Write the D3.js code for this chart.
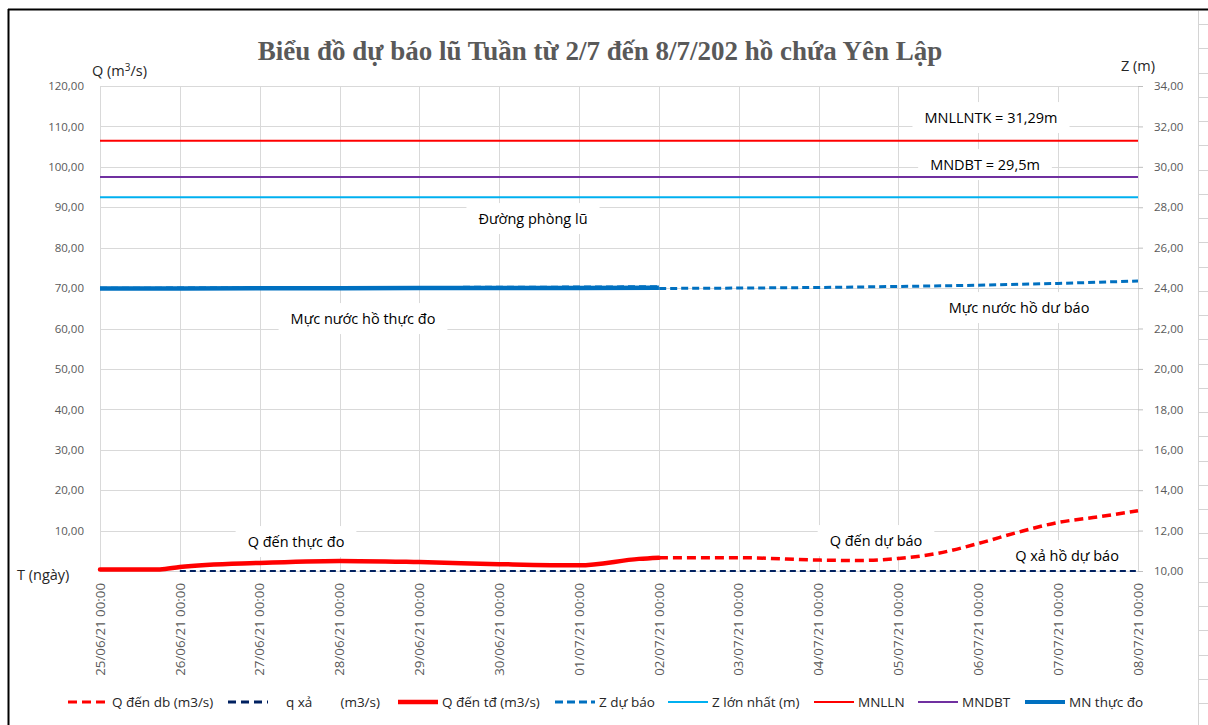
<!DOCTYPE html>
<html>
<head>
<meta charset="utf-8">
<script src="https://cdn.jsdelivr.net/npm/d3@7"></script>
<style>
  body { margin: 0; background: #fff; }
  text { font-family: "Open Sans", sans-serif; }
</style>
</head>
<body>
<svg id="viz" width="1208" height="725"></svg>
<script>
// days on the x axis
const dayTicks = ['25/06/2021 00:00','26/06/2021 00:00','27/06/2021 00:00','28/06/2021 00:00','29/06/2021 00:00',
  '30/06/2021 00:00','01/07/2021 00:00','02/07/2021 00:00','03/07/2021 00:00','04/07/2021 00:00',
  '05/07/2021 00:00','06/07/2021 00:00','07/07/2021 00:00','08/07/2021 00:00']

// Q đến thực đo (m3/s)
const qTdTimes = ['25/06/2021 00:00','25/06/2021 18:00','26/06/2021 00:00','27/06/2021 00:00','28/06/2021 00:00',
  '29/06/2021 00:00','30/06/2021 00:00','01/07/2021 00:00','01/07/2021 18:00','02/07/2021 00:00']
const qTdValues = [0.4, 0.4, 1.0, 2.0, 2.5, 2.2, 1.7, 1.4, 3.0, 3.3]

// Q đến dự báo (m3/s)
const qDbTimes = ['02/07/2021 00:00','03/07/2021 00:00','04/07/2021 00:00','04/07/2021 12:00','05/07/2021 00:00',
  '05/07/2021 12:00','06/07/2021 00:00','06/07/2021 12:00','07/07/2021 00:00','07/07/2021 12:00','08/07/2021 00:00']
const qDbValues = [3.3, 3.3, 2.7, 2.6, 3.1, 4.4, 6.8, 9.6, 12.0, 13.4, 14.9]

// q xả (m3/s)
const qXaTimes = dayTicks.slice(1)
const qXaValues = [0, 0, 0, 0, 0, 0, 0, 0, 0, 0, 0, 0, 0]

// MN thực đo (m)
const mnTimes = dayTicks.slice(0, 8)
const mnValues = [23.98, 23.98, 23.99, 23.99, 24.0, 24.0, 24.01, 24.02]

// Z dự báo (m)
const zDbTimes = dayTicks.slice(0, 8).concat(dayTicks.slice(7))
const zDbValues = [23.99, 24.0, 24.01, 24.02, 24.03, 24.04, 24.05, 24.07,
  23.98, 24.0, 24.03, 24.08, 24.14, 24.23, 24.35]

// level lines (m)
const levelNames = ['Z lớn nhất (m)', 'MNLLN', 'MNDBT']
const levelValues = [28.5, 31.29, 29.5]

const qTicks = [0, 10, 20, 30, 40, 50, 60, 70, 80, 90, 100, 110, 120]
const zTicks = [10, 12, 14, 16, 18, 20, 22, 24, 26, 28, 30, 32, 34]

const legendNames = ['Q đến db (m3/s)', '    q xả        (m3/s)', 'Q đến tđ (m3/s)', 'Z dự báo',
  'Z lớn nhất (m)', 'MNLLN', 'MNDBT', 'MN thực đo']

const parse = d3.timeParse('%d/%m/%Y %H:%M')
const fmt = d => d.toFixed(2).replace('.', ',')
const fmtDay = d3.timeFormat('%d/%m/%y %H:%M')

let svg = d3.select('#viz')

// frame + spreadsheet cells on the right
svg.append('line').attr('x1', 8).attr('x2', 1208).attr('y1', 9.5).attr('y2', 9.5)
  .attr('stroke', '#000').attr('stroke-width', 2)
svg.append('line').attr('x1', 8.5).attr('x2', 8.5).attr('y1', 9).attr('y2', 725)
  .attr('stroke', '#000').attr('stroke-width', 2)
svg.append('line').attr('x1', 1198.5).attr('x2', 1198.5).attr('y1', 11).attr('y2', 725)
  .attr('stroke', '#d4d4d4')
svg.selectAll('.cell').data(d3.range(24, 725, 24.25)).enter().append('line')
  .attr('x1', 1199).attr('x2', 1208).attr('y1', d => Math.round(d) + 0.5).attr('y2', d => Math.round(d) + 0.5)
  .attr('stroke', '#d4d4d4')

let x = d3.scaleTime().domain([parse(dayTicks[0]), parse(dayTicks[13])]).range([100, 1138])
let yQ = d3.scaleLinear().domain([0, 120]).range([571, 86])
let yZ = d3.scaleLinear().domain([10, 34]).range([571, 86])

// gridlines
let grid = svg.append('g')
grid.selectAll('.hg').data(qTicks).enter().append('line')
  .attr('x1', 100).attr('x2', 1138)
  .attr('y1', d => Math.round(yQ(d)) + 0.5).attr('y2', d => Math.round(yQ(d)) + 0.5)
  .attr('stroke', '#d9d9d9')
grid.selectAll('.vg').data(dayTicks).enter().append('line')
  .attr('x1', d => Math.round(x(parse(d))) + 0.5).attr('x2', d => Math.round(x(parse(d))) + 0.5)
  .attr('y1', 86).attr('y2', 571)
  .attr('stroke', '#d9d9d9')

// left axis labels (0 is replaced by the T (ngày) title)
svg.append('g').attr('transform', 'translate(100,0)')
  .call(d3.axisLeft(yQ).tickValues(qTicks.slice(1)).tickFormat(fmt).tickSize(0).tickPadding(16))
  .call(g => g.select('.domain').remove())
  .call(g => g.selectAll('text').attr('fill', '#595959').style('font-size', '11.5px').style('font-family', '"Open Sans", sans-serif'))

// right axis
svg.append('g').attr('transform', 'translate(1138,0)')
  .call(d3.axisRight(yZ).tickValues(zTicks).tickFormat(fmt).tickSize(5).tickPadding(11))
  .call(g => g.select('.domain').remove())
  .call(g => g.selectAll('line').attr('stroke', '#bfbfbf'))
  .call(g => g.selectAll('text').attr('fill', '#595959').style('font-size', '11.5px').style('font-family', '"Open Sans", sans-serif'))

// x labels (rotated)
svg.append('g').selectAll('text').data(dayTicks).enter().append('text')
  .attr('transform', d => `translate(${x(parse(d))},583) rotate(-90)`)
  .attr('text-anchor', 'end').attr('dy', '0.35em')
  .attr('fill', '#595959').style('font-size', '13.3px')
  .text(d => fmtDay(parse(d)))

// axis titles
let qTitle = svg.append('text').attr('x', 92).attr('y', 76).attr('fill', '#262626').style('font-size', '14.5px')
qTitle.append('tspan').text('Q (m')
qTitle.append('tspan').attr('dy', -5).style('font-size', '10px').text('3')
qTitle.append('tspan').attr('dy', 5).text('/s)')
svg.append('text').attr('x', 1121).attr('y', 71).attr('fill', '#262626').style('font-size', '14.5px').text('Z (m)')
svg.append('text').attr('x', 17).attr('y', 580).attr('fill', '#262626').style('font-size', '14.5px').text('T (ngày)')

// title
svg.append('text').attr('x', 600).attr('y', 60).attr('text-anchor', 'middle')
  .attr('fill', '#595959').style('font-family', '"Liberation Serif", serif').style('font-weight', 'bold')
  .style('font-size', '27px')
  .text('Biểu đồ dự báo lũ Tuần từ 2/7 đến 8/7/202 hồ chứa Yên Lập')

// annotations with white boxes
const notes = [
  ['MNLLNTK = 31,29m', 991, 118], ['MNDBT = 29,5m', 985, 165], ['Đường phòng lũ', 533, 219],
  ['Mực nước hồ thực đo', 363, 319], ['Mực nước hồ dư báo', 1019, 308],
  ['Q đến thực đo', 296, 542], ['Q đến dự báo', 876, 541], ['Q xả hồ dự báo', 1067, 556]
]
let noteG = svg.append('g')
notes.forEach(n => {
  let g = noteG.append('g')
  let r = g.append('rect').attr('fill', '#fff')
  let t = g.append('text').attr('x', n[1]).attr('y', n[2]).attr('dy', '0.35em')
    .attr('text-anchor', 'middle').attr('fill', '#000').style('font-size', '14.5px').text(n[0])
  let b = t.node().getBBox()
  r.attr('x', b.x - 12).attr('y', b.y - 6).attr('width', b.width + 24).attr('height', b.height + 12)
})

// series
const pts = (times, vals) => times.map((t, i) => [parse(t), vals[i]])
let lineQ = d3.line().x(d => x(d[0])).y(d => yQ(d[1])).curve(d3.curveMonotoneX)
let lineZ = d3.line().x(d => x(d[0])).y(d => yZ(d[1]))

let series = svg.append('g').attr('fill', 'none')
levelValues.forEach((v, i) => {
  series.append('path')
    .attr('d', lineZ([[parse(dayTicks[0]), v], [parse(dayTicks[13]), v]]))
    .attr('stroke', ['#00b0f0', '#ff0000', '#7030a0'][i]).attr('stroke-width', 2)
})
series.append('path').attr('d', lineZ(pts(mnTimes, mnValues)))
  .attr('stroke', '#0070c0').attr('stroke-width', 4.5)
series.append('path').attr('d', lineZ(pts(zDbTimes, zDbValues)))
  .attr('stroke', '#0070c0').attr('stroke-width', 3).attr('stroke-dasharray', '7,4')
series.append('path').attr('d', lineQ(pts(qXaTimes, qXaValues)))
  .attr('stroke', '#002060').attr('stroke-width', 2).attr('stroke-dasharray', '6,4')
series.append('path').attr('d', lineQ(pts(qDbTimes, qDbValues)))
  .attr('stroke', '#ff0000').attr('stroke-width', 3.5).attr('stroke-dasharray', '9,5')
series.append('path').attr('d', lineQ(pts(qTdTimes, qTdValues)))
  .attr('stroke', '#ff0000').attr('stroke-width', 4.5).attr('stroke-linecap', 'round')

// legend
const legX = [68, 228, 398, 555, 668, 814, 918, 1025]
const legStyle = [
  ['#ff0000', 3, '9,5'], ['#002060', 3, '8,5'], ['#ff0000', 4.5, null], ['#0070c0', 3, '8,4'],
  ['#00b0f0', 2, null], ['#ff0000', 2, null], ['#7030a0', 2, null], ['#0070c0', 4, null]
]
let leg = svg.append('g')
legendNames.forEach((name, i) => {
  leg.append('line').attr('x1', legX[i]).attr('x2', legX[i] + 40).attr('y1', 702).attr('y2', 702)
    .attr('stroke', legStyle[i][0]).attr('stroke-width', legStyle[i][1])
    .attr('stroke-dasharray', legStyle[i][2])
  leg.append('text').attr('x', legX[i] + 44).attr('y', 702).attr('dy', '0.35em')
    .attr('xml:space', 'preserve').style('white-space', 'pre')
    .attr('fill', '#262626').style('font-size', '13.5px').text(name)
})
</script>
</body>
</html>
